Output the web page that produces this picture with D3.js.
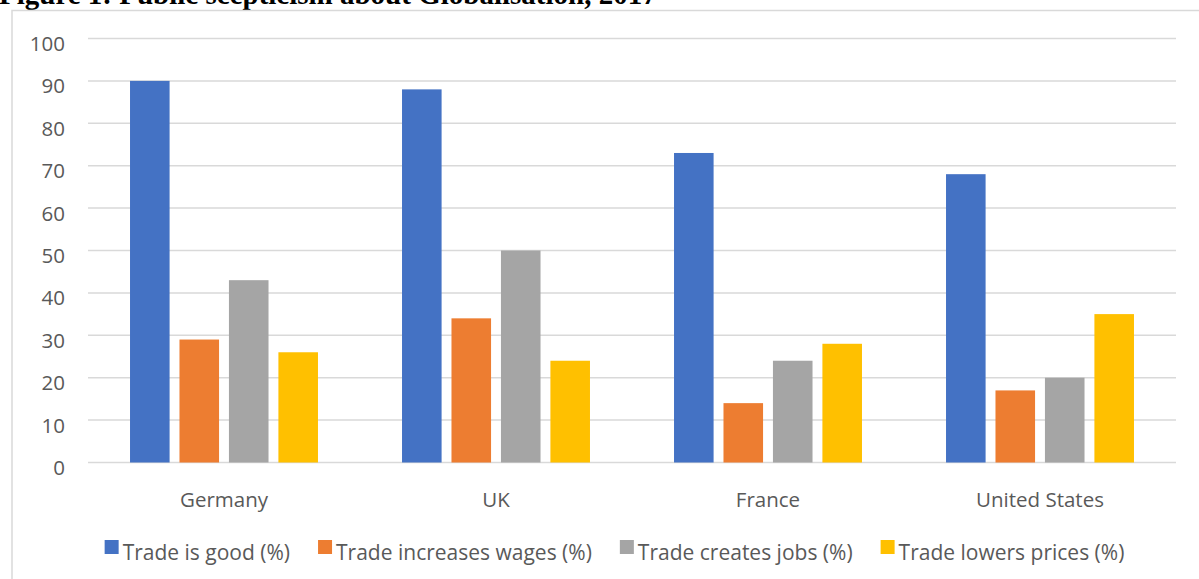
<!DOCTYPE html>
<html lang="en">
<head>
  <meta charset="UTF-8">
  <title>Public scepticism about Globalisation, 2017</title>
  <script src="https://d3js.org/d3.v7.min.js"></script>
  <style>
    body {
      margin: 0;
      background: #fff;
    }
    svg text {
      font-family: "Open Sans", sans-serif;
      fill: #595959;
    }
    .title {
      font-family: "Liberation Serif", "Times New Roman", serif !important;
      font-weight: bold;
      fill: #000 !important;
    }
  </style>
</head>
<body>
<div id="chart"></div>

<script>
  const countries = ["Germany", "UK", "France", "United States"];
  const seriesNames = [
    "Trade is good (%)",
    "Trade increases wages (%)",
    "Trade creates jobs (%)",
    "Trade lowers prices (%)"
  ];
  const tradeIsGood = [90, 88, 73, 68];
  const tradeIncreasesWages = [29, 34, 14, 17];
  const tradeCreatesJobs = [43, 50, 24, 20];
  const tradeLowersPrices = [26, 24, 28, 35];
  const yTicks = [0, 10, 20, 30, 40, 50, 60, 70, 80, 90, 100];
  const colors = ["#4472C4", "#ED7D31", "#A5A5A5", "#FFC000"];

  const seriesValues = [tradeIsGood, tradeIncreasesWages, tradeCreatesJobs, tradeLowersPrices];

  const width = 1199;
  const height = 579;
  const plot = { left: 88, right: 1176, top: 38.5, bottom: 462.5 };

  const svg = d3.select("#chart").append("svg")
    .attr("width", width)
    .attr("height", height);

  // title, cut off at the top like the source
  svg.append("text")
    .attr("class", "title")
    .attr("x", -1)
    .attr("y", 4)
    .style("font-size", "29px")
    .text("Figure 1: Public scepticism about Globalisation, 2017");

  // chart frame
  svg.append("rect")
    .attr("x", 12)
    .attr("y", 10.5)
    .attr("width", 1220)
    .attr("height", 600)
    .attr("fill", "none")
    .attr("stroke", "#d9d9d9")
    .attr("stroke-width", 1.5);

  const x0 = d3.scaleBand()
    .domain(countries)
    .range([plot.left, plot.right])
    .paddingInner(0.309)
    .paddingOuter(0.1545);

  const x1 = d3.scaleBand()
    .domain(d3.range(seriesNames.length))
    .range([0, x0.bandwidth()])
    .paddingInner(0.2);

  const y = d3.scaleLinear()
    .domain([0, 100])
    .range([plot.bottom, plot.top]);

  // gridlines
  svg.append("g")
    .selectAll("line")
    .data(yTicks)
    .join("line")
      .attr("x1", plot.left)
      .attr("x2", plot.right)
      .attr("y1", d => y(d))
      .attr("y2", d => y(d))
      .attr("stroke", "#d9d9d9")
      .attr("stroke-width", 1.5);

  // y labels
  svg.append("g")
    .selectAll("text")
    .data(yTicks)
    .join("text")
      .attr("x", 65)
      .attr("y", d => y(d) + 12.5)
      .attr("text-anchor", "end")
      .style("font-size", "20.5px")
      .text(d => d);

  // bars
  const rows = countries.map((c, i) => ({
    country: c,
    values: seriesValues.map((s, k) => ({ k, value: s[i] }))
  }));

  svg.append("g")
    .selectAll("g")
    .data(rows)
    .join("g")
      .attr("transform", d => `translate(${x0(d.country)},0)`)
    .selectAll("rect")
    .data(d => d.values)
    .join("rect")
      .attr("x", d => x1(d.k))
      .attr("y", d => y(d.value))
      .attr("width", x1.bandwidth())
      .attr("height", d => y(0) - y(d.value))
      .attr("fill", d => colors[d.k]);

  // country labels
  svg.append("g")
    .selectAll("text")
    .data(countries)
    .join("text")
      .attr("x", d => x0(d) + x0.bandwidth() / 2)
      .attr("y", 507)
      .attr("text-anchor", "middle")
      .style("font-size", "20.5px")
      .text(d => d);

  // legend, centred in the chart area
  const legend = svg.append("g");
  const items = legend.selectAll("g")
    .data(seriesNames)
    .join("g");

  items.append("rect")
    .attr("width", 14)
    .attr("height", 14)
    .attr("y", 540)
    .attr("fill", (d, i) => colors[i]);

  items.append("text")
    .attr("x", 18)
    .attr("y", 560)
    .style("font-size", "21px")
    .text(d => d);

  let pos = 0;
  const gap = 28;
  items.each(function() {
    const w = this.getBBox().width;
    d3.select(this).attr("transform", `translate(${pos},0)`);
    pos += w + gap;
  });
  const total = pos - gap;
  legend.attr("transform", `translate(${614.5 - total / 2},0)`);
</script>

</body>
</html>
